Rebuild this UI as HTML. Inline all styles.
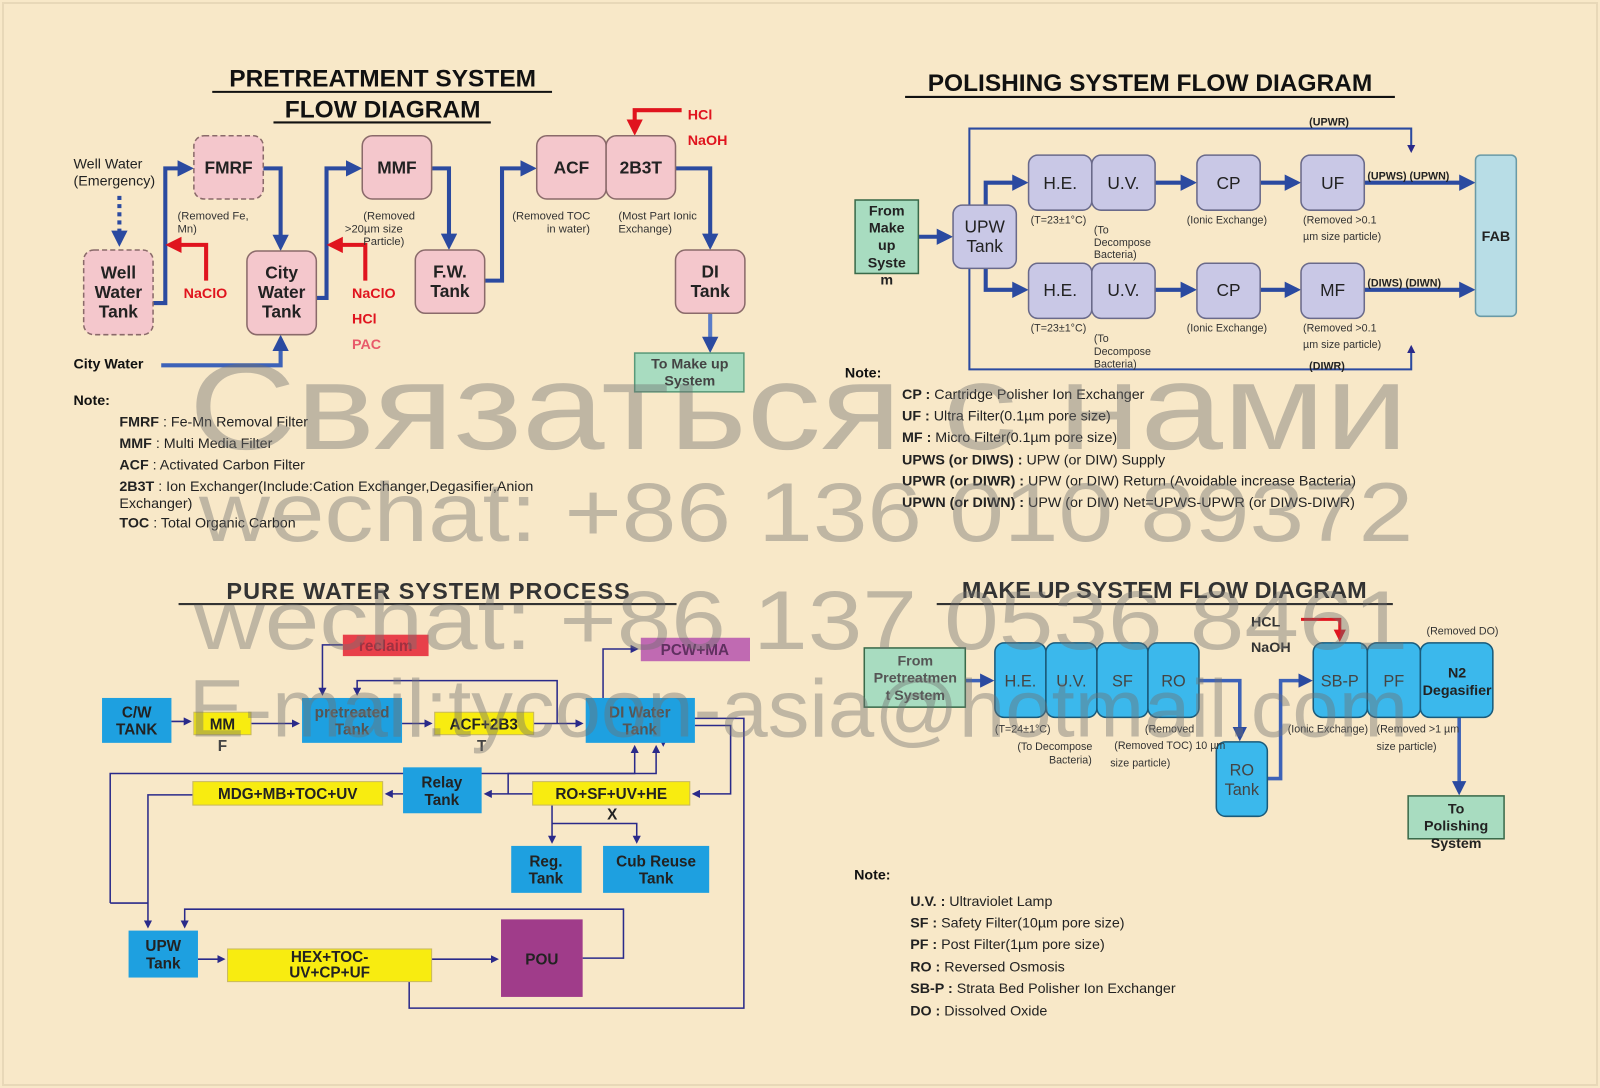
<!DOCTYPE html>
<html><head><meta charset="utf-8"><style>
html,body{margin:0;padding:0;background:#f8e8c8;}
svg{display:block;font-family:"Liberation Sans",Arial,sans-serif;}
.b{font-weight:bold}
</style></head><body>
<svg width="1600" height="1088" viewBox="0 0 1600 1088" xmlns="http://www.w3.org/2000/svg">
<defs>
<marker id="ab" markerWidth="4" markerHeight="4" refX="3" refY="2" orient="auto" markerUnits="strokeWidth"><path d="M0,0 L4,2 L0,4z" fill="#2b4aa0"/></marker>
<marker id="ar" markerWidth="4" markerHeight="4" refX="3" refY="2" orient="auto" markerUnits="strokeWidth"><path d="M0,0 L4,2 L0,4z" fill="#e0141e"/></marker>
<marker id="an" markerWidth="8" markerHeight="8" refX="6" refY="4" orient="auto" markerUnits="userSpaceOnUse"><path d="M0,0 L8,4 L0,8z" fill="#2a2a8a"/></marker>
</defs>
<rect x="0" y="0" width="1600" height="1088" fill="#f8e8c8"/>
<rect x="3" y="3" width="1594" height="1082" fill="none" stroke="#e8d8b8" stroke-width="2"/>
<g transform="scale(1.0204)">

<!-- ===== PRETREATMENT ===== -->
<g class="b" font-size="24" text-anchor="middle" fill="#111">
<text x="375" y="85">PRETREATMENT SYSTEM</text>
<text x="375" y="115">FLOW DIAGRAM</text>
</g>
<line x1="208" y1="90" x2="541" y2="90" stroke="#111" stroke-width="2"/>
<line x1="268" y1="120" x2="481" y2="120" stroke="#111" stroke-width="2"/>
<text x="72" y="165" font-size="14" fill="#222">Well Water</text>
<text x="72" y="182" font-size="14" fill="#222">(Emergency)</text>
<line x1="117" y1="192" x2="117" y2="238" stroke="#2b4aa0" stroke-width="4" stroke-dasharray="4,4" marker-end="url(#ab)"/>
<g stroke="#2b4aa0" stroke-width="4" fill="none" marker-end="url(#ab)">
<polyline points="150,297 162,297 162,165 186,165"/>
<polyline points="258,165 275,165 275,242"/>
<polyline points="310,292 320,292 320,165 351,165"/>
<polyline points="423,165 440,165 440,241"/>
<polyline points="475,275 492,275 492,165 522,165"/>
<polyline points="662,165 696,165 696,241"/>
<polyline points="158,358 275,358 275,332" stroke="#3d62b8"/>
<polyline points="696,307 696,342" stroke="#5a7cc8"/>
</g>
<g stroke="#e0141e" stroke-width="4" fill="none" marker-end="url(#ar)">
<polyline points="202,275 202,240 166,240"/>
<polyline points="358,275 358,240 324,240"/>
<polyline points="668,108 622,108 622,129"/>
</g>
<g fill="#f4c7cc" stroke="#8a6a6a" stroke-width="1.5">
<rect x="82" y="245" width="68" height="83" rx="10" stroke-dasharray="5,3"/>
<rect x="190" y="133" width="68" height="62" rx="10" stroke-dasharray="5,3"/>
<rect x="242" y="246" width="68" height="82" rx="10"/>
<rect x="355" y="133" width="68" height="62" rx="10"/>
<rect x="407" y="245" width="68" height="62" rx="10"/>
<rect x="526" y="133" width="68" height="62" rx="10"/>
<rect x="594" y="133" width="68" height="62" rx="10"/>
<rect x="662" y="245" width="68" height="62" rx="10"/>
</g>
<rect x="622" y="346" width="107" height="38" fill="#a8dcc0" stroke="#5a9a7a" stroke-width="1.5"/>
<g class="b" font-size="17" text-anchor="middle" fill="#222">
<text x="116" y="273">Well</text><text x="116" y="292">Water</text><text x="116" y="311">Tank</text>
<text x="224" y="170">FMRF</text>
<text x="276" y="273">City</text><text x="276" y="292">Water</text><text x="276" y="311">Tank</text>
<text x="389" y="170">MMF</text>
<text x="441" y="272">F.W.</text><text x="441" y="291">Tank</text>
<text x="560" y="170">ACF</text>
<text x="628" y="170">2B3T</text>
<text x="696" y="272">DI</text><text x="696" y="291">Tank</text>
</g>
<g class="b" font-size="14" text-anchor="middle" fill="#444">
<text x="676" y="361">To Make up</text><text x="676" y="378">System</text>
</g>
<g font-size="11" fill="#333">
<text x="174" y="215">(Removed Fe,</text><text x="174" y="228">Mn)</text>
<text x="356" y="215">(Removed</text><text x="338" y="228">&gt;20µm      size</text><text x="356" y="240">Particle)</text>
<text x="502" y="215">(Removed TOC</text><text x="536" y="228">in water)</text>
<text x="606" y="215">(Most Part Ionic</text><text x="606" y="228">Exchange)</text>
</g>
<g class="b" font-size="14" fill="#e0141e">
<text x="180" y="292">NaClO</text>
<text x="345" y="292">NaClO</text>
<text x="345" y="317">HCl</text>
<text x="345" y="342" fill="#e85a6a">PAC</text>
<text x="674" y="117">HCl</text>
<text x="674" y="142">NaOH</text>
</g>
<text x="72" y="361" class="b" font-size="14" fill="#111">City Water</text>
<text x="72" y="397" class="b" font-size="14" fill="#111">Note:</text>
<g font-size="14" fill="#222">
<text x="117" y="418"><tspan class="b">FMRF</tspan> : Fe-Mn Removal Filter</text>
<text x="117" y="439"><tspan class="b">MMF</tspan> : Multi Media Filter</text>
<text x="117" y="460"><tspan class="b">ACF</tspan> : Activated Carbon Filter</text>
<text x="117" y="481"><tspan class="b">2B3T</tspan> : Ion Exchanger(Include:Cation Exchanger,Degasifier,Anion</text>
<text x="117" y="498">Exchanger)</text>
<text x="117" y="517"><tspan class="b">TOC</tspan> : Total Organic Carbon</text>
</g>

<!-- ===== POLISHING ===== -->
<text x="1127" y="89" class="b" font-size="24" text-anchor="middle" fill="#111">POLISHING SYSTEM FLOW DIAGRAM</text>
<line x1="887" y1="95" x2="1367" y2="95" stroke="#111" stroke-width="2"/>
<g stroke="#2b4aa0" stroke-width="2" fill="none">
<polyline points="950,201 950,126 1383,126 1383,148" marker-end="url(#an)" stroke-width="2"/>
<polyline points="950,263 950,362 1383,362 1383,340" marker-end="url(#an)"/>
</g>
<g stroke="#2b4aa0" stroke-width="4" fill="none" marker-end="url(#ab)">
<polyline points="900,232 930,232"/>
<polyline points="966,201 966,179 1004,179"/>
<polyline points="966,263 966,284 1004,284"/>
<polyline points="1132,179 1169,179"/><polyline points="1235,179 1271,179"/><polyline points="1337,179 1442,179"/>
<polyline points="1132,284 1169,284"/><polyline points="1235,284 1271,284"/><polyline points="1337,284 1442,284"/>
</g>
<rect x="838" y="196" width="62" height="72" fill="#a8dcc0" stroke="#3a6a4a" stroke-width="1.5"/>
<g fill="#c9c8e6" stroke="#6a6a8a" stroke-width="1.5">
<rect x="934" y="201" width="62" height="62" rx="9"/>
<rect x="1008" y="152" width="62" height="54" rx="9"/><rect x="1070" y="152" width="62" height="54" rx="9"/>
<rect x="1173" y="152" width="62" height="54" rx="9"/><rect x="1275" y="152" width="62" height="54" rx="9"/>
<rect x="1008" y="258" width="62" height="54" rx="9"/><rect x="1070" y="258" width="62" height="54" rx="9"/>
<rect x="1173" y="258" width="62" height="54" rx="9"/><rect x="1275" y="258" width="62" height="54" rx="9"/>
</g>
<rect x="1446" y="152" width="40" height="158" rx="5" fill="#b8dde6" stroke="#6a9aa6" stroke-width="1.5"/>
<g class="b" font-size="14" text-anchor="middle" fill="#222">
<text x="869" y="211">From</text><text x="869" y="228">Make</text><text x="869" y="245">up</text><text x="869" y="262">Syste</text><text x="869" y="279">m</text>
<text x="1466" y="236">FAB</text>
</g>
<g font-size="17" text-anchor="middle" fill="#222">
<text x="965" y="228">UPW</text><text x="965" y="247">Tank</text>
<text x="1039" y="185">H.E.</text><text x="1101" y="185">U.V.</text><text x="1204" y="185">CP</text><text x="1306" y="185">UF</text>
<text x="1039" y="290">H.E.</text><text x="1101" y="290">U.V.</text><text x="1204" y="290">CP</text><text x="1306" y="290">MF</text>
</g>
<g font-size="10.5" fill="#333">
<text x="1010" y="219">(T=23±1°C)</text><text x="1072" y="229">(To</text><text x="1072" y="241">Decompose</text><text x="1072" y="253">Bacteria)</text>
<text x="1163" y="219">(Ionic Exchange)</text><text x="1277" y="219">(Removed &gt;0.1</text><text x="1277" y="235">µm size particle)</text>
<text x="1010" y="325">(T=23±1°C)</text><text x="1072" y="335">(To</text><text x="1072" y="348">Decompose</text><text x="1072" y="360">Bacteria)</text>
<text x="1163" y="325">(Ionic Exchange)</text><text x="1277" y="325">(Removed &gt;0.1</text><text x="1277" y="341">µm size particle)</text>
</g>
<g class="b" font-size="10.5" fill="#222">
<text x="1283" y="123">(UPWR)</text><text x="1340" y="176">(UPWS) (UPWN)</text>
<text x="1340" y="281">(DIWS)   (DIWN)</text><text x="1283" y="362">(DIWR)</text>
</g>
<text x="828" y="370" class="b" font-size="14" fill="#111">Note:</text>
<g font-size="14" fill="#222">
<text x="884" y="391"><tspan class="b">CP :</tspan> Cartridge Polisher Ion Exchanger</text>
<text x="884" y="412"><tspan class="b">UF :</tspan> Ultra Filter(0.1µm pore size)</text>
<text x="884" y="433"><tspan class="b">MF :</tspan> Micro Filter(0.1µm pore size)</text>
<text x="884" y="455"><tspan class="b">UPWS (or DIWS) :</tspan> UPW (or DIW) Supply</text>
<text x="884" y="476"><tspan class="b">UPWR (or DIWR) :</tspan> UPW (or DIW) Return (Avoidable increase Bacteria)</text>
<text x="884" y="497"><tspan class="b">UPWN (or DIWN) :</tspan> UPW (or DIW) Net=UPWS-UPWR (or DIWS-DIWR)</text>
</g>

<!-- ===== PURE WATER ===== -->
<text x="420" y="587" class="b" font-size="23" text-anchor="middle" fill="#333" letter-spacing="1">PURE WATER SYSTEM PROCESS</text>
<line x1="175" y1="592" x2="663" y2="592" stroke="#333" stroke-width="2"/>
<g stroke="#2a2a8a" stroke-width="1.5" fill="none">
<polyline points="168,707 186,707" marker-end="url(#an)"/>
<polyline points="246,709 292,709" marker-end="url(#an)"/>
<polyline points="394,709 422,709" marker-end="url(#an)"/>
<polyline points="523,709 570,709" marker-end="url(#an)"/>
<polyline points="336,632 316,632 316,680" marker-end="url(#an)"/>
<polyline points="546,709 546,667 350,667 350,680" marker-end="url(#an)"/>
<polyline points="591,684 591,636 624,636" marker-end="url(#an)"/>
<polyline points="681,711 716,711 716,778 680,778" marker-end="url(#an)"/>
<polyline points="522,778 476,778" marker-end="url(#an)"/>
<polyline points="395,778 379,778" marker-end="url(#an)"/>
<polyline points="498,778 498,758 643,758 643,732" marker-end="url(#an)"/>
<polyline points="189,779 145,779 145,908" marker-end="url(#an)"/>
<polyline points="108,885 108,758 622,758 622,732" marker-end="url(#an)"/>
<polyline points="108,885 145,885"/>
<polyline points="541,789 541,825" marker-end="url(#an)"/>
<polyline points="541,807 624,807 624,825" marker-end="url(#an)"/>
<polyline points="194,940 219,940" marker-end="url(#an)"/>
<polyline points="423,940 487,940" marker-end="url(#an)"/>
<polyline points="571,939 611,939 611,891 181,891 181,908" marker-end="url(#an)"/>
<polyline points="401,962 401,988 729,988 729,704 650,704 650,730" marker-end="url(#an)"/>
</g>
<g fill="#1ea0e0">
<rect x="100" y="684" width="68" height="44"/>
<rect x="296" y="684" width="98" height="44"/>
<rect x="574" y="684" width="107" height="44"/>
<rect x="395" y="752" width="77" height="45"/>
<rect x="501" y="829" width="69" height="46"/>
<rect x="591" y="829" width="104" height="46"/>
<rect x="126" y="912" width="68" height="46"/>
</g>
<g fill="#f8ec10" stroke="#c8b860" stroke-width="1">
<rect x="190" y="698" width="56" height="22"/>
<rect x="426" y="698" width="97" height="22"/>
<rect x="189" y="766" width="186" height="23"/>
<rect x="522" y="766" width="154" height="23"/>
<rect x="223" y="930" width="200" height="32"/>
</g>
<rect x="336" y="622" width="84" height="21" fill="#e8404a"/>
<rect x="628" y="625" width="107" height="23" fill="#c06ab2"/>
<rect x="491" y="901" width="80" height="76" fill="#a03c8a"/>
<g class="b" font-size="15" text-anchor="middle" fill="#222">
<text x="134" y="703">C/W</text><text x="134" y="720">TANK</text>
<text x="218" y="715">MM</text><text x="218" y="736" fill="#444">F</text>
<text x="345" y="703" fill="#555">pretreated</text><text x="345" y="720" fill="#555">Tank</text>
<text x="474" y="715">ACF+2B3</text><text x="472" y="736" fill="#444">T</text>
<text x="627" y="703" fill="#555">DI Water</text><text x="627" y="720" fill="#555">Tank</text>
<text x="378" y="638" fill="#a03040">reclaim</text>
<text x="681" y="642" fill="#603060">PCW+MA</text>
<text x="433" y="772">Relay</text><text x="433" y="789">Tank</text>
<text x="282" y="783">MDG+MB+TOC+UV</text>
<text x="599" y="783">RO+SF+UV+HE</text><text x="600" y="803">X</text>
<text x="535" y="849">Reg.</text><text x="535" y="866">Tank</text>
<text x="643" y="849">Cub Reuse</text><text x="643" y="866">Tank</text>
<text x="160" y="932">UPW</text><text x="160" y="949">Tank</text>
<text x="323" y="943">HEX+TOC-</text><text x="323" y="958">UV+CP+UF</text>
<text x="531" y="945">POU</text>
</g>

<!-- ===== MAKE UP ===== -->
<text x="1141" y="586" class="b" font-size="23" text-anchor="middle" fill="#333">MAKE UP SYSTEM FLOW DIAGRAM</text>
<line x1="918" y1="592" x2="1365" y2="592" stroke="#333" stroke-width="2"/>
<g stroke="#3d62b8" stroke-width="3.5" fill="none" marker-end="url(#ab)">
<polyline points="946,667 971,667"/>
<polyline points="1175,667 1215,667 1215,723"/>
<polyline points="1242,763 1255,763 1255,667 1283,667"/>
<polyline points="1430,703 1430,776"/>
</g>
<polyline points="1275,607 1313,607 1313,626" stroke="#e0141e" stroke-width="3" fill="none" marker-end="url(#ar)"/>
<rect x="847" y="635" width="99" height="58" fill="#a8dcc0" stroke="#3a6a4a" stroke-width="1.5"/>
<rect x="1380" y="780" width="94" height="42" fill="#a8dcc0" stroke="#3a6a4a" stroke-width="1.5"/>
<g fill="#3bb8ec" stroke="#1a5a7a" stroke-width="1.5">
<rect x="975" y="630" width="50" height="73" rx="9"/><rect x="1025" y="630" width="50" height="73" rx="9"/>
<rect x="1075" y="630" width="50" height="73" rx="9"/><rect x="1125" y="630" width="50" height="73" rx="9"/>
<rect x="1192" y="727" width="50" height="73" rx="9"/>
<rect x="1287" y="630" width="53" height="73" rx="9"/><rect x="1340" y="630" width="52" height="73" rx="9"/>
<rect x="1392" y="630" width="71" height="73" rx="9"/>
</g>
<g class="b" font-size="14" text-anchor="middle" fill="#555">
<text x="897" y="652">From</text><text x="897" y="669">Pretreatmen</text><text x="897" y="686">t System</text>
</g>
<g class="b" font-size="14" text-anchor="middle" fill="#222">
<text x="1427" y="797">To</text><text x="1427" y="814">Polishing</text><text x="1427" y="831">System</text>
<text x="1428" y="664">N2</text><text x="1428" y="681">Degasifier</text>
</g>
<g font-size="16" text-anchor="middle" fill="#444">
<text x="1000" y="673">H.E.</text><text x="1050" y="673">U.V.</text><text x="1100" y="673">SF</text><text x="1150" y="673">RO</text>
<text x="1217" y="760">RO</text><text x="1217" y="779">Tank</text>
<text x="1313" y="673">SB-P</text><text x="1366" y="673">PF</text>
</g>
<g class="b" font-size="14" fill="#333"><text x="1226" y="614">HCL</text><text x="1226" y="639">NaOH</text></g>
<g font-size="10.5" fill="#333">
<text x="975" y="718">(T=24±1°C)</text><text x="997" y="735">(To Decompose</text><text x="1028" y="748">Bacteria)</text>
<text x="1122" y="718">(Removed</text><text x="1092" y="734">(Removed TOC) 10 µm</text><text x="1088" y="751">size particle)</text>
<text x="1262" y="718">(Ionic Exchange)</text><text x="1349" y="718">(Removed &gt;1 µm</text><text x="1349" y="735">size particle)</text>
<text x="1398" y="622">(Removed DO)</text>
</g>
<text x="837" y="862" class="b" font-size="14" fill="#111">Note:</text>
<g font-size="14" fill="#222">
<text x="892" y="888"><tspan class="b">U.V. :</tspan> Ultraviolet Lamp</text>
<text x="892" y="909"><tspan class="b">SF :</tspan> Safety Filter(10µm pore size)</text>
<text x="892" y="930"><tspan class="b">PF :</tspan> Post Filter(1µm pore size)</text>
<text x="892" y="952"><tspan class="b">RO :</tspan> Reversed Osmosis</text>
<text x="892" y="973"><tspan class="b">SB-P :</tspan> Strata Bed Polisher Ion Exchanger</text>
<text x="892" y="995"><tspan class="b">DO :</tspan> Dissolved Oxide</text>
</g>

<!-- ===== WATERMARK ===== -->
<g fill="#707070" fill-opacity="0.42" font-family="'Liberation Sans',sans-serif">
<text x="185" y="440" font-size="120" textLength="1195" lengthAdjust="spacingAndGlyphs">Связаться с нами</text>
<text x="195" y="530" font-size="82" textLength="1190" lengthAdjust="spacingAndGlyphs">wechat: +86 136 010 89372</text>
<text x="190" y="636" font-size="82" textLength="1190" lengthAdjust="spacingAndGlyphs">wechat: +86 137 0536 8461</text>
<text x="185" y="722" font-size="80" textLength="1195" lengthAdjust="spacingAndGlyphs">E-mail:tycoon-asia@hotmail.com</text>
</g>
</g>
</svg>
</body></html>
